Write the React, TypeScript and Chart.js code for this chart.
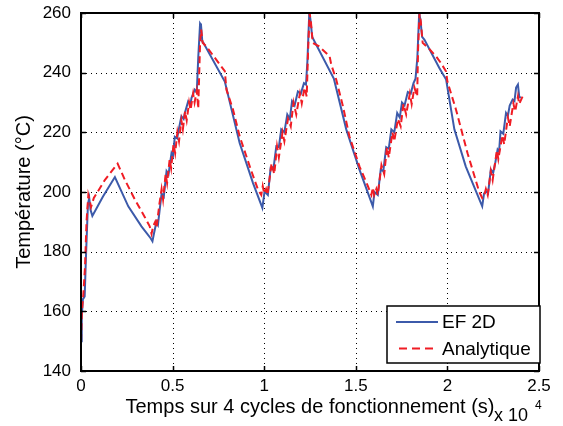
import React, { useEffect, useRef } from 'react';
import { Chart, registerables } from 'chart.js';

Chart.register(...registerables);

// ---- data (time in units of 10^4 s, temperature in °C) ----
const efX = [
  0.000, 0.004, 0.010, 0.020, 0.028, 0.038, 0.045, 0.052, 0.062, 0.120, 0.185, 0.258, 0.330, 0.380, 0.390,
  0.398, 0.412, 0.420, 0.440, 0.452, 0.467, 0.478, 0.494, 0.502, 0.512, 0.525, 0.530, 0.548, 0.560, 0.567,
  0.585, 0.598, 0.603, 0.621, 0.632, 0.640, 0.650, 0.655, 0.662, 0.668, 0.785, 0.866, 0.939, 0.990,
  1.002, 1.020, 1.035, 1.050, 1.066, 1.080, 1.093, 1.110, 1.126, 1.140, 1.152, 1.166, 1.184, 1.200, 1.217,
  1.228, 1.236, 1.246, 1.252, 1.262, 1.380, 1.448, 1.520, 1.593,
  1.602, 1.620, 1.636, 1.650, 1.666, 1.680, 1.694, 1.710, 1.726, 1.740, 1.752, 1.766, 1.784, 1.800, 1.815,
  1.826, 1.836, 1.846, 1.852, 1.862, 1.875, 1.956, 1.993, 2.038, 2.100, 2.190,
  2.200, 2.212, 2.222, 2.237, 2.250, 2.262, 2.274, 2.282, 2.290, 2.305, 2.320, 2.330, 2.340, 2.356, 2.366,
  2.375, 2.385, 2.392, 2.400,
];
const efY = [
  150, 158, 164, 165, 180, 196, 198, 194, 192, 198.5, 205, 195.2, 188.5, 184.5, 183.5,
  186, 190, 189, 199.5, 198.5, 207, 206, 213, 212, 218.5, 218, 219.8, 225.4, 224.5, 226.5,
  230.4, 229.5, 231.5, 234.3, 233.5, 245, 256.5, 256, 250.5, 250, 237, 216.4, 203, 194.7,
  200.2, 199, 208, 207.5, 215.3, 215, 221, 220, 226, 224.5, 230.4, 229, 233.7, 233, 236.5,
  236, 244, 260, 258, 252, 238, 221, 207.5, 195.2,
  200, 199, 207.5, 207, 215, 214.5, 221, 220, 226.5, 225, 230, 229, 233.5, 233, 236.5,
  238, 245, 260, 258, 252, 251, 241.6, 237.7, 221, 208.6, 195.2,
  199.5, 200.2, 199.5, 207.5, 206.5, 210, 214.2, 213.5, 220.3, 219.5, 226.5, 225.5, 229, 231, 230.5,
  235, 236, 232, 231.5,
];

const anX = [
  0.000, 0.005, 0.012, 0.022, 0.030, 0.040, 0.048, 0.055, 0.070, 0.130, 0.200, 0.240, 0.294, 0.350, 0.375,
  0.385, 0.394, 0.405, 0.412, 0.428, 0.440, 0.448, 0.462, 0.470, 0.484, 0.492, 0.505, 0.514, 0.526, 0.535,
  0.548, 0.556, 0.568, 0.577, 0.590, 0.598, 0.612, 0.620, 0.632, 0.640, 0.650, 0.656, 0.664, 0.684, 0.785,
  0.794, 0.830, 0.866, 0.921, 0.966, 0.984,
  0.992, 1.000, 1.010, 1.018, 1.040, 1.055, 1.070, 1.080, 1.100, 1.110, 1.130, 1.145, 1.160, 1.175, 1.195,
  1.205, 1.220, 1.232, 1.240, 1.248, 1.255, 1.265, 1.300, 1.357, 1.366, 1.393, 1.430, 1.465, 1.520, 1.566, 1.585,
  1.593, 1.600, 1.612, 1.620, 1.640, 1.655, 1.670, 1.680, 1.700, 1.710, 1.730, 1.745, 1.760, 1.775, 1.795,
  1.805, 1.820, 1.835, 1.840, 1.848, 1.855, 1.865, 1.900, 1.938, 1.965, 1.993, 2.000, 2.047, 2.110, 2.173, 2.190,
  2.200, 2.210, 2.220, 2.237, 2.247, 2.270, 2.278, 2.300, 2.310, 2.330, 2.340, 2.360, 2.370, 2.385, 2.392, 2.410,
];
const anY = [
  150, 160, 165, 175, 190, 199, 197, 195, 198, 204, 209.5, 204, 197.5, 191.4, 188.5,
  186, 188.5, 190, 188, 196, 201, 197.5, 206, 203, 211, 208, 216, 213, 220, 217,
  224, 221, 227, 224, 230, 227.5, 233, 230, 234, 228, 250, 254.4, 250, 248.8, 240.5,
  234.3, 227.6, 218.7, 208.6, 200.8, 199,
  202, 199.5, 201, 199, 209.6, 206, 215.3, 211.6, 220, 217, 224.5, 222, 230, 226, 233,
  229.7, 235, 232, 248, 260, 257, 250, 248.8, 245.5, 242.7, 237.7, 228.7, 218.7, 208.6, 202, 199,
  201.5, 199, 201, 199, 209, 206, 215, 211.5, 220, 217, 224.5, 222, 229.5, 226, 233,
  229.5, 235, 232, 248, 260, 257, 250, 248, 245.5, 243.2, 240.4, 237, 227.6, 213, 200.2, 198,
  198.6, 201, 199, 207, 204, 214, 211, 219, 216, 225, 222, 229.7, 227, 232, 229.5, 232,
];

const xTicks = [0, 0.5, 1, 1.5, 2, 2.5];
const xTickLabels = ['0', '0.5', '1', '1.5', '2', '2.5'];
const yTicks = [140, 160, 180, 200, 220, 240, 260];
const seriesNames = ['EF 2D', 'Analytique'];
const xTitle = 'Temps sur 4 cycles de fonctionnement (s)';
const yTitle = 'Température (°C)';
const xExponentBase = 'x 10';
const xExponent = '4';

const BLUE = '#3c5aaa';
const RED = '#f01c24';
const FONT = "'Liberation Sans', Arial, Helvetica, sans-serif";

const matlabPlugin = {
  id: 'matlabStyle',
  beforeDatasetsDraw(chart: any) {
    const { ctx, chartArea, scales } = chart;
    const { left, right, top, bottom } = chartArea;
    const xs = scales.x;
    const ys = scales.y;
    ctx.save();
    ctx.strokeStyle = '#000';
    ctx.lineWidth = 1;
    ctx.setLineDash([1, 4]);
    for (const v of xTicks) {
      if (v <= xs.min || v >= xs.max) continue;
      const px = Math.round(xs.getPixelForValue(v)) + 0.5;
      ctx.beginPath();
      ctx.moveTo(px, top);
      ctx.lineTo(px, bottom);
      ctx.stroke();
    }
    for (const v of yTicks) {
      if (v <= ys.min || v >= ys.max) continue;
      const py = Math.round(ys.getPixelForValue(v)) + 0.5;
      ctx.beginPath();
      ctx.moveTo(left, py);
      ctx.lineTo(right, py);
      ctx.stroke();
    }
    ctx.restore();
  },
  afterDatasetsDraw(chart: any) {
    const { ctx, chartArea, scales } = chart;
    const { left, right, top, bottom } = chartArea;
    const xs = scales.x;
    const ys = scales.y;
    ctx.save();
    ctx.setLineDash([]);
    ctx.strokeStyle = '#000';
    ctx.lineWidth = 1.5;
    const tl = 5;
    ctx.beginPath();
    for (const v of xTicks) {
      const px = Math.round(xs.getPixelForValue(v)) + 0.5;
      ctx.moveTo(px, bottom);
      ctx.lineTo(px, bottom - tl);
      ctx.moveTo(px, top);
      ctx.lineTo(px, top + tl);
    }
    for (const v of yTicks) {
      const py = Math.round(ys.getPixelForValue(v)) + 0.5;
      ctx.moveTo(left, py);
      ctx.lineTo(left + tl, py);
      ctx.moveTo(right, py);
      ctx.lineTo(right - tl, py);
    }
    ctx.stroke();
    ctx.lineWidth = 2;
    ctx.strokeRect(left, top, right - left, bottom - top);

    // legend
    const bRight = right + 1;
    const bLeft = bRight - 153;
    const bTop = bottom - 65;
    const bBottom = bottom - 8;
    ctx.fillStyle = '#fff';
    ctx.fillRect(bLeft, bTop, bRight - bLeft, bBottom - bTop);
    ctx.lineWidth = 1.5;
    ctx.strokeStyle = '#000';
    ctx.strokeRect(bLeft, bTop, bRight - bLeft, bBottom - bTop);
    const rowY = [bTop + 16, bTop + 42.5];
    const colors = [BLUE, RED];
    for (let i = 0; i < seriesNames.length; i++) {
      ctx.beginPath();
      ctx.strokeStyle = colors[i];
      ctx.lineWidth = 2;
      ctx.setLineDash(i === 1 ? [8, 5] : []);
      ctx.moveTo(bLeft + (i === 1 ? 12 : 9), rowY[i]);
      ctx.lineTo(bLeft + 51, rowY[i]);
      ctx.stroke();
      ctx.setLineDash([]);
      ctx.fillStyle = '#000';
      ctx.font = `19px ${FONT}`;
      ctx.textBaseline = 'middle';
      ctx.textAlign = 'left';
      ctx.fillText(seriesNames[i], bLeft + 55, rowY[i] + 1);
    }

    // x10^4 multiplier
    ctx.fillStyle = '#000';
    ctx.textBaseline = 'alphabetic';
    ctx.textAlign = 'left';
    ctx.font = `18px ${FONT}`;
    ctx.fillText(xExponentBase, right - 45, bottom + 50);
    ctx.font = `12px ${FONT}`;
    ctx.fillText(xExponent, right - 4, bottom + 38);
    ctx.restore();
  },
};

export default function App() {
  const canvasRef = useRef<HTMLCanvasElement | null>(null);

  useEffect(() => {
    const canvas = canvasRef.current;
    if (!canvas) return;
    const chart = new Chart(canvas, {
      type: 'line',
      data: {
        datasets: [
          {
            label: seriesNames[0],
            data: efX.map((x, i) => ({ x, y: efY[i] })),
            borderColor: BLUE,
            borderWidth: 2,
            pointRadius: 0,
            tension: 0,
            fill: false,
            order: 1,
          },
          {
            label: seriesNames[1],
            data: anX.map((x, i) => ({ x, y: anY[i] })),
            borderColor: RED,
            borderWidth: 2,
            borderDash: [7, 4],
            pointRadius: 0,
            tension: 0,
            fill: false,
            order: 0,
          },
        ],
      },
      options: {
        responsive: false,
        animation: false,
        devicePixelRatio: 1,
        layout: { padding: { left: 0, right: 24, top: 13, bottom: 0 } },
        plugins: { legend: { display: false }, tooltip: { enabled: false } },
        scales: {
          x: {
            type: 'linear',
            min: 0,
            max: 2.5,
            afterBuildTicks: (scale: any) => {
              scale.ticks = xTicks.map((v) => ({ value: v }));
            },
            afterFit: (scale: any) => {
              scale.height = 55;
              scale.paddingLeft = 0;
              scale.paddingRight = 0;
            },
            ticks: {
              color: '#000',
              font: { family: FONT, size: 17 },
              padding: 5,
              maxRotation: 0,
              autoSkip: false,
              callback: (v: any) => {
                const idx = xTicks.indexOf(Number(v));
                return idx >= 0 ? xTickLabels[idx] : '';
              },
            },
            grid: { display: false, drawTicks: false },
            border: { display: false },
            title: {
              display: true,
              text: xTitle,
              color: '#000',
              font: { family: FONT, size: 20 },
              padding: { top: 0, bottom: 7 },
            },
          },
          y: {
            type: 'linear',
            min: 140,
            max: 260,
            afterBuildTicks: (scale: any) => {
              scale.ticks = yTicks.map((v) => ({ value: v }));
            },
            afterFit: (scale: any) => {
              scale.width = 81;
              scale.paddingTop = 0;
              scale.paddingBottom = 0;
            },
            ticks: {
              color: '#000',
              font: { family: FONT, size: 17 },
              padding: 10,
              autoSkip: false,
              callback: (v: any) => String(v),
            },
            grid: { display: false, drawTicks: false },
            border: { display: false },
            title: {
              display: true,
              text: yTitle,
              color: '#000',
              font: { family: FONT, size: 20 },
              padding: { top: 12, bottom: 0 },
            },
          },
        },
      },
      plugins: [matlabPlugin],
    } as any);
    return () => chart.destroy();
  }, []);

  return (
    <div style={{ position: 'fixed', left: 0, top: 0, width: 563, height: 426, background: '#fff' }}>
      <canvas ref={canvasRef} width={563} height={426} style={{ display: 'block', width: 563, height: 426 }} />
    </div>
  );
}
